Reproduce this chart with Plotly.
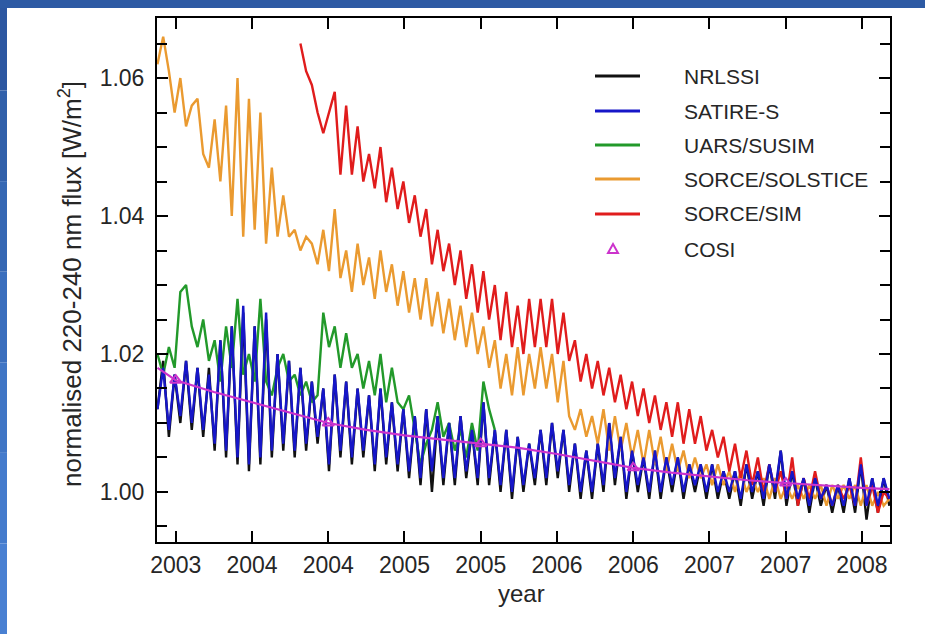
import plotly.graph_objects as go

# ---------------- data ----------------
T0 = 2003.08
STEP = 0.0375
N = 129
times = [round(T0 + STEP * i, 4) for i in range(N)]

nrlssi = [
    1.012, 1.019, 1.008, 1.017, 1.010, 1.019, 1.009, 1.018, 1.008, 1.018,
    1.006, 1.022, 1.005, 1.024, 1.004, 1.026, 1.003, 1.024, 1.004, 1.025,
    1.005, 1.020, 1.006, 1.019, 1.005, 1.018, 1.006, 1.016, 1.007, 1.015,
    1.003, 1.017, 1.005, 1.016, 1.004, 1.015, 1.005, 1.014, 1.003, 1.015,
    1.004, 1.013, 1.003, 1.012, 1.002, 1.011, 1.001, 1.012, 1.000, 1.011,
    1.001, 1.010, 1.001, 1.011, 1.002, 1.009, 1.001, 1.013, 1.001, 1.009,
    1.000, 1.009, 0.999, 1.008, 1.000, 1.007, 1.001, 1.009, 1.001, 1.010,
    1.002, 1.009, 1.000, 1.007, 0.999, 1.006, 0.999, 1.007, 1.000, 1.010,
    1.001, 1.008, 0.999, 1.006, 1.000, 1.005, 0.999, 1.006, 0.999, 1.005,
    1.000, 1.005, 0.999, 1.004, 1.000, 1.004, 0.999, 1.004, 0.999, 1.003,
    0.999, 1.003, 0.998, 1.004, 0.999, 1.003, 0.998, 1.004, 0.999, 1.006,
    0.998, 1.003, 0.998, 1.002, 0.997, 1.002, 0.998, 1.001, 0.997, 1.001,
    0.997, 1.002, 0.997, 1.004, 0.996, 1.002, 0.997, 1.002, 0.998,
]

satire_s = [
    1.012, 1.018, 1.009, 1.017, 1.011, 1.019, 1.010, 1.018, 1.009, 1.017,
    1.007, 1.022, 1.006, 1.024, 1.005, 1.027, 1.004, 1.024, 1.005, 1.026,
    1.006, 1.020, 1.007, 1.019, 1.006, 1.018, 1.007, 1.016, 1.008, 1.015,
    1.004, 1.017, 1.006, 1.016, 1.005, 1.015, 1.006, 1.014, 1.004, 1.015,
    1.005, 1.013, 1.004, 1.012, 1.003, 1.011, 1.002, 1.012, 1.003, 1.011,
    1.002, 1.010, 1.002, 1.011, 1.003, 1.009, 1.002, 1.013, 1.002, 1.009,
    1.001, 1.009, 1.000, 1.008, 1.001, 1.007, 1.002, 1.009, 1.002, 1.010,
    1.003, 1.009, 1.001, 1.007, 1.000, 1.006, 1.000, 1.007, 1.001, 1.010,
    1.002, 1.008, 1.000, 1.006, 1.001, 1.005, 1.000, 1.006, 1.000, 1.005,
    1.001, 1.005, 1.000, 1.004, 1.001, 1.004, 1.000, 1.004, 1.000, 1.003,
    1.000, 1.003, 0.999, 1.004, 1.000, 1.003, 0.999, 1.004, 1.000, 1.006,
    0.999, 1.003, 0.999, 1.002, 0.998, 1.002, 0.999, 1.001, 0.998, 1.001,
    0.998, 1.002, 0.998, 1.004, 0.998, 1.002, 0.998, 1.002, 0.999,
]

susim_n = 60  # UARS/SUSIM covers the first 60 samples
uars_susim = [
    1.020, 1.017, 1.021, 1.018, 1.029, 1.030, 1.024, 1.021, 1.025, 1.019,
    1.022, 1.016, 1.024, 1.018, 1.028, 1.017, 1.020, 1.016, 1.028, 1.016,
    1.014, 1.018, 1.020, 1.016, 1.017, 1.014, 1.016, 1.013, 1.014, 1.026,
    1.021, 1.024, 1.018, 1.023, 1.018, 1.020, 1.015, 1.019, 1.014, 1.020,
    1.013, 1.018, 1.013, 1.012, 1.014, 1.009, 1.004, 1.007, 1.009, 1.013,
    1.008, 1.010, 1.006, 1.009, 1.005, 1.010, 1.006, 1.016, 1.012, 1.009,
]

sorce_solstice = [
    1.062, 1.066, 1.061, 1.055, 1.060, 1.053, 1.056, 1.057, 1.049, 1.047,
    1.054, 1.045, 1.056, 1.040, 1.060, 1.037, 1.057, 1.038, 1.055, 1.036,
    1.047, 1.037, 1.043, 1.037, 1.038, 1.035, 1.037, 1.036, 1.033, 1.038,
    1.032, 1.041, 1.031, 1.035, 1.029, 1.036, 1.030, 1.034, 1.028, 1.035,
    1.029, 1.033, 1.027, 1.032, 1.026, 1.031, 1.025, 1.031, 1.024, 1.029,
    1.023, 1.028, 1.022, 1.027, 1.021, 1.026, 1.020, 1.024, 1.018, 1.022,
    1.015, 1.020, 1.014, 1.021, 1.014, 1.020, 1.015, 1.021, 1.015, 1.020,
    1.013, 1.019, 1.011, 1.009, 1.012, 1.008, 1.011, 1.007, 1.012, 1.006,
    1.011, 1.006, 1.010, 1.005, 1.009, 1.004, 1.009, 1.004, 1.008, 1.003,
    1.007, 1.003, 1.006, 1.002, 1.005, 1.002, 1.004, 1.001, 1.004, 1.001,
    1.003, 1.000, 1.003, 1.000, 1.002, 1.000, 1.002, 0.999, 1.002, 0.999,
    1.001, 0.999, 1.001, 0.999, 1.001, 0.999, 1.001, 0.998, 1.001, 0.999,
    1.001, 0.999, 1.001, 0.998, 1.001, 0.998, 1.000, 0.998, 0.999,
]

sim_start = 25  # SORCE/SIM starts at sample 25
sorce_sim = [
    1.065, 1.061, 1.059, 1.055, 1.052,
    1.055, 1.058, 1.046, 1.056, 1.046, 1.053, 1.045, 1.049, 1.044, 1.050,
    1.042, 1.047, 1.041, 1.045, 1.039, 1.043, 1.037, 1.041, 1.033, 1.038,
    1.032, 1.036, 1.030, 1.035, 1.028, 1.033, 1.026, 1.032, 1.025, 1.030,
    1.022, 1.029, 1.021, 1.027, 1.020, 1.028, 1.021, 1.028, 1.021, 1.028,
    1.020, 1.026, 1.019, 1.022, 1.016, 1.020, 1.015, 1.019, 1.014, 1.018,
    1.013, 1.017, 1.012, 1.016, 1.011, 1.015, 1.010, 1.014, 1.009, 1.013,
    1.008, 1.013, 1.007, 1.012, 1.007, 1.011, 1.006, 1.009, 1.005, 1.008,
    1.003, 1.007, 1.002, 1.006, 1.001, 1.005, 1.000, 1.004, 1.000, 1.003,
    0.999, 1.005, 0.998, 1.002, 0.999, 1.003, 0.999, 1.001, 0.998, 1.001,
    0.999, 1.001, 0.998, 1.005, 0.998, 1.001, 0.997, 1.000, 0.999,
]

cosi_t = [2003.08, 2003.2, 2003.45, 2003.7, 2003.95, 2004.2, 2004.45, 2004.7,
          2004.95, 2005.2, 2005.45, 2005.7, 2005.95, 2006.2, 2006.45, 2006.7,
          2006.95, 2007.2, 2007.45, 2007.7, 2007.88]
cosi_v = [1.0180, 1.0162, 1.0145, 1.0130, 1.0115, 1.0100, 1.0090, 1.0082,
          1.0076, 1.0070, 1.0064, 1.0055, 1.0045, 1.0035, 1.0028, 1.0022,
          1.0017, 1.0013, 1.0009, 1.0006, 1.0004]
cosi_mark_t = [2003.2, 2004.2, 2005.2, 2006.2, 2007.2]
cosi_mark_v = [1.0162, 1.0100, 1.0070, 1.0035, 1.0013]

tick_vals = [2003.2, 2003.7, 2004.2, 2004.7, 2005.2, 2005.7, 2006.2, 2006.7, 2007.2, 2007.7]
tick_text = ["2003", "2004", "2004", "2005", "2005", "2006", "2006", "2007", "2007", "2008"]

names = ["NRLSSI", "SATIRE-S", "UARS/SUSIM", "SORCE/SOLSTICE", "SORCE/SIM", "COSI"]
colors = ["#111111", "#1616c8", "#22992a", "#ea9a30", "#e01c1c", "#cc33cc"]

# ---------------- figure ----------------
W, H = 925, 634
L, R, T, B = 157, 35, 18, 92
PW, PH = W - L - R, H - T - B

def px(x):
    return (x - L) / PW

def py(y):
    return (H - B - y) / PH

LW = 2.4
fig = go.Figure()
fig.add_trace(go.Scatter(x=times, y=nrlssi, mode="lines", line=dict(color=colors[0], width=LW)))
fig.add_trace(go.Scatter(x=times[:susim_n], y=uars_susim, mode="lines", line=dict(color=colors[2], width=LW)))
fig.add_trace(go.Scatter(x=times, y=sorce_solstice, mode="lines", line=dict(color=colors[3], width=LW)))
fig.add_trace(go.Scatter(x=times[sim_start:], y=sorce_sim, mode="lines", line=dict(color=colors[4], width=LW)))
fig.add_trace(go.Scatter(x=times, y=satire_s, mode="lines", line=dict(color=colors[1], width=LW)))
fig.add_trace(go.Scatter(x=cosi_t, y=cosi_v, mode="lines", line=dict(color=colors[5], width=2.2)))
fig.add_trace(go.Scatter(x=cosi_mark_t, y=cosi_mark_v, mode="markers",
                         marker=dict(symbol="triangle-up-open", size=10, color=colors[5],
                                     line=dict(width=2, color=colors[5]))))

FONT = "Liberation Sans, Arial, Helvetica, sans-serif"
TXT = "#262626"

axis_common = dict(showline=True, linecolor="black", linewidth=2, mirror="ticks",
                   ticks="inside", ticklen=11, tickwidth=1.5, tickcolor="black",
                   showgrid=False, zeroline=False,
                   tickfont=dict(family=FONT, size=23, color=TXT))

fig.update_xaxes(range=[2003.077, 2007.884], tickmode="array", tickvals=tick_vals,
                 ticktext=tick_text, ticklabelstandoff=1, **axis_common)
fig.update_yaxes(range=[0.99275, 1.0687], tick0=1.0, dtick=0.02, tickformat=".2f",
                 ticklabelstandoff=6,
                 minor=dict(dtick=0.005, tick0=1.0, ticks="inside", ticklen=10,
                            tickwidth=1.5, tickcolor="black", showgrid=False),
                 **axis_common)

shapes = []
annotations = []
# blue page frame (left strip with gradient, top strip)
left_cols = ["#2c57a1", "#3160aa", "#3567b3", "#3a6ebd", "#3f75c5", "#447bcc", "#4980d2"]
nseg = len(left_cols)
for k, c in enumerate(left_cols):
    y_top = H * k / nseg
    y_bot = H * (k + 1) / nseg
    shapes.append(dict(type="rect", xref="paper", yref="paper",
                       x0=px(0), x1=px(7), y0=py(y_bot), y1=py(y_top),
                       fillcolor=c, line=dict(width=0), layer="above"))
shapes.append(dict(type="rect", xref="paper", yref="paper",
                   x0=px(0), x1=px(W), y0=py(8), y1=py(0),
                   fillcolor="#2d5aa4", line=dict(width=0), layer="above"))

# legend (drawn by hand to match layout)
rows = [76, 111, 145, 179, 214, 249]
for k, (nm, c) in enumerate(zip(names, colors)):
    yy = rows[k]
    if nm == "COSI":
        cx, cy = 613, yy
        path = "M {a},{b} L {c},{d} L {e},{f} Z".format(
            a=px(cx - 5), b=py(cy + 4), c=px(cx + 5), d=py(cy + 4), e=px(cx), f=py(cy - 5))
        shapes.append(dict(type="path", xref="paper", yref="paper", path=path,
                           line=dict(color=c, width=2), fillcolor="rgba(0,0,0,0)"))
    else:
        shapes.append(dict(type="line", xref="paper", yref="paper",
                           x0=px(595), x1=px(640), y0=py(yy), y1=py(yy),
                           line=dict(color=c, width=3)))
    annotations.append(dict(xref="paper", yref="paper", x=px(682), y=py(yy),
                            text=nm, showarrow=False, xanchor="left", yanchor="middle",
                            font=dict(family=FONT, size=21, color=TXT)))

# axis titles
annotations.append(dict(xref="paper", yref="paper", x=px(521), y=py(593), text="year",
                        showarrow=False, xanchor="center", yanchor="middle",
                        font=dict(family=FONT, size=24, color=TXT)))
annotations.append(dict(xref="paper", yref="paper", x=px(70), y=py(284),
                        text="normalised 220-240 nm flux [W/m<sup>2</sup>]",
                        showarrow=False, textangle=-90, xanchor="center", yanchor="middle",
                        font=dict(family=FONT, size=26, color=TXT)))

fig.update_layout(width=W, height=H, margin=dict(l=L, r=R, t=T, b=B),
                  paper_bgcolor="white", plot_bgcolor="white", showlegend=False,
                  shapes=shapes, annotations=annotations)

fig.write_html("out.html")
